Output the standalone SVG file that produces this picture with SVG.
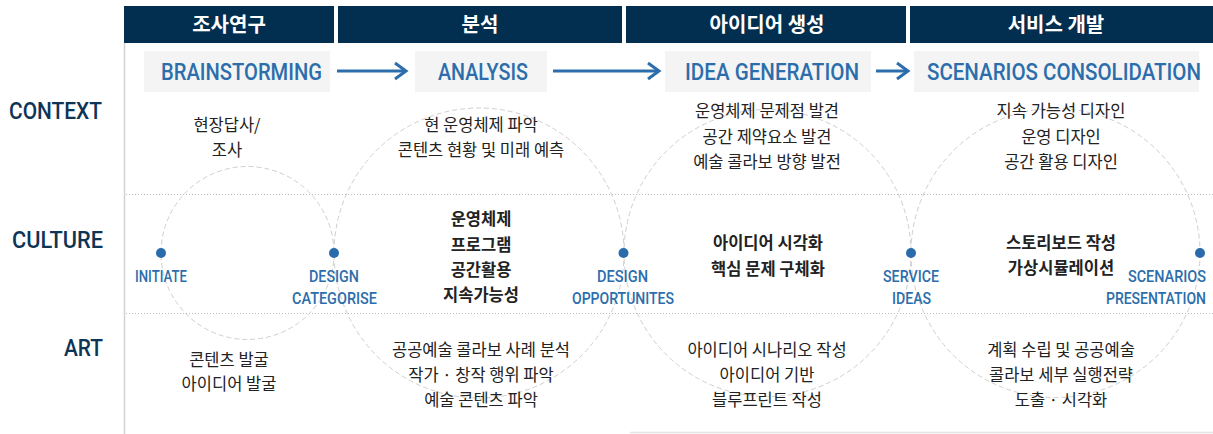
<svg xmlns="http://www.w3.org/2000/svg" width="1213" height="434" viewBox="0 0 1213 434">
<style>
.hdr{fill:#022e50}
.hdrt{font-family:"Noto Sans CJK KR","Noto Sans",sans-serif;font-weight:700;font-size:20px;fill:#ffffff;text-anchor:middle}
.box{fill:#f4f4f4}
.boxt{font-family:Roboto,"Liberation Sans",Arial,sans-serif;font-weight:500;font-size:24px;fill:#2c6eab}
.row{font-family:Roboto,"Liberation Sans",Arial,sans-serif;font-weight:500;font-size:24.5px;fill:#0e3456}
.lbl{font-family:Roboto,"Liberation Sans",Arial,sans-serif;font-weight:500;font-size:17px;fill:#2c6eab}
.body{font-family:"Noto Sans CJK KR","Noto Sans",sans-serif;font-size:16.5px;fill:#222222;text-anchor:middle}
.bold{font-weight:700}
.circ{fill:none;stroke:#cfcfcf;stroke-width:1;stroke-dasharray:5 3}
.dot{fill:#2a6cab}
.sep{stroke:#bdbdbd;stroke-width:1;stroke-dasharray:1 2}
.arr{stroke:#2c6eab;stroke-width:3;fill:none}
</style>
<defs>
<marker id="chev" markerUnits="userSpaceOnUse" markerWidth="16" markerHeight="20" refX="13" refY="10" orient="auto">
<polyline points="2,2 13,10 2,18" fill="none" stroke="#2c6eab" stroke-width="3"/>
</marker>
</defs>
<rect width="1213" height="434" fill="#ffffff"/>
<line x1="124.5" y1="43" x2="124.5" y2="434" stroke="#d2d2d2" stroke-width="1.5"/>
<line x1="630" y1="432.5" x2="1213" y2="432.5" stroke="#e4e4e4" stroke-width="1.5"/>
<g id="separators">
<line class="sep" x1="126" y1="194.5" x2="1213" y2="194.5"/>
<line class="sep" x1="126" y1="313.5" x2="1213" y2="313.5"/>
</g>
<g id="circles">
<circle class="circ" cx="247.5" cy="253" r="86.5"/>
<circle class="circ" cx="479" cy="253" r="145"/>
<circle class="circ" cx="767.5" cy="253" r="143.5"/>
<circle class="circ" cx="1055.5" cy="253" r="144.5"/>
</g>
<g id="row-labels">
<text class="row" x="9" y="119" textLength="93" lengthAdjust="spacingAndGlyphs">CONTEXT</text>
<text class="row" x="12" y="248" textLength="91" lengthAdjust="spacingAndGlyphs">CULTURE</text>
<text class="row" x="64" y="356" textLength="39" lengthAdjust="spacingAndGlyphs">ART</text>
</g>
<g id="header-1"><rect class="hdr" x="124" y="6" width="210" height="37"/><text class="hdrt" x="229" y="32">조사연구</text></g>
<g id="header-2"><rect class="hdr" x="338" y="6" width="284" height="37"/><text class="hdrt" x="480" y="32">분석</text></g>
<g id="header-3"><rect class="hdr" x="626" y="6" width="280" height="37"/><text class="hdrt" x="767" y="32">아이디어 생성</text></g>
<g id="header-4"><rect class="hdr" x="910" y="6" width="303" height="37"/><text class="hdrt" x="1056" y="32">서비스 개발</text></g>
<g id="stage-brainstorming"><rect class="box" x="144" y="51" width="186" height="41"/><text class="boxt" x="161" y="80" textLength="161" lengthAdjust="spacingAndGlyphs">BRAINSTORMING</text></g>
<g id="stage-analysis"><rect class="box" x="415" y="51" width="132" height="41"/><text class="boxt" x="438" y="80" textLength="90" lengthAdjust="spacingAndGlyphs">ANALYSIS</text></g>
<g id="stage-idea"><rect class="box" x="665" y="51" width="206" height="41"/><text class="boxt" x="685" y="80" textLength="174" lengthAdjust="spacingAndGlyphs">IDEA GENERATION</text></g>
<g id="stage-scenarios"><rect class="box" x="914" y="51" width="285" height="41"/><text class="boxt" transform="scale(0.8,1)" x="1158.75" y="80" textLength="342.5" lengthAdjust="spacingAndGlyphs">SCENARIOS CONSOLIDATION</text></g>
<g id="connectors">
<line class="arr" x1="337" y1="71" x2="406" y2="71" marker-end="url(#chev)"/>
<line class="arr" x1="553" y1="71" x2="659" y2="71" marker-end="url(#chev)"/>
<line class="arr" x1="876" y1="71" x2="908" y2="71" marker-end="url(#chev)"/>
</g>
<g id="context-1"><text class="body" x="227" y="131">현장답사/</text><text class="body" x="227" y="156">조사</text></g>
<g id="context-2"><text class="body" x="481" y="131">현 운영체제 파악</text><text class="body" x="481" y="156">콘텐츠 현황 및 미래 예측</text></g>
<g id="context-3"><text class="body" x="767" y="117">운영체제 문제점 발견</text><text class="body" x="767" y="143">공간 제약요소 발견</text><text class="body" x="767" y="168">예술 콜라보 방향 발전</text></g>
<g id="context-4"><text class="body" x="1061" y="117">지속 가능성 디자인</text><text class="body" x="1061" y="143">운영 디자인</text><text class="body" x="1061" y="168">공간 활용 디자인</text></g>
<g id="culture-2"><text class="body bold" x="481" y="225">운영체제</text><text class="body bold" x="481" y="251">프로그램</text><text class="body bold" x="481" y="276">공간활용</text><text class="body bold" x="481" y="301">지속가능성</text></g>
<g id="culture-3"><text class="body bold" x="768" y="249">아이디어 시각화</text><text class="body bold" x="768" y="275">핵심 문제 구체화</text></g>
<g id="culture-4"><text class="body bold" x="1061" y="249">스토리보드 작성</text><text class="body bold" x="1061" y="274">가상시뮬레이션</text></g>
<g id="art-1"><text class="body" x="229" y="366">콘텐츠 발굴</text><text class="body" x="229" y="390">아이디어 발굴</text></g>
<g id="art-2"><text class="body" x="481" y="356">공공예술 콜라보 사례 분석</text><text class="body" x="481" y="381">작가 · 창작 행위 파악</text><text class="body" x="481" y="406">예술 콘텐츠 파악</text></g>
<g id="art-3"><text class="body" x="767" y="356">아이디어 시나리오 작성</text><text class="body" x="767" y="381">아이디어 기반</text><text class="body" x="767" y="406">블루프린트 작성</text></g>
<g id="art-4"><text class="body" x="1061" y="356">계획 수립 및 공공예술</text><text class="body" x="1061" y="381">콜라보 세부 실행전략</text><text class="body" x="1061" y="406">도출 · 시각화</text></g>
<g id="point-initiate"><circle class="dot" cx="161" cy="253" r="5"/><text class="lbl" x="135" y="282" textLength="52" lengthAdjust="spacingAndGlyphs">INITIATE</text></g>
<g id="point-design-categorise"><circle class="dot" cx="334" cy="253" r="5"/><text class="lbl" x="309" y="282" textLength="50" lengthAdjust="spacingAndGlyphs">DESIGN</text><text class="lbl" x="292" y="304" textLength="85" lengthAdjust="spacingAndGlyphs">CATEGORISE</text></g>
<g id="point-design-opportunites"><circle class="dot" cx="623.5" cy="253" r="5"/><text class="lbl" x="597" y="282" textLength="51" lengthAdjust="spacingAndGlyphs">DESIGN</text><text class="lbl" x="572" y="304" textLength="102" lengthAdjust="spacingAndGlyphs">OPPORTUNITES</text></g>
<g id="point-service-ideas"><circle class="dot" cx="911" cy="253" r="5"/><text class="lbl" x="883" y="282" textLength="56" lengthAdjust="spacingAndGlyphs">SERVICE</text><text class="lbl" x="892" y="304" textLength="39" lengthAdjust="spacingAndGlyphs">IDEAS</text></g>
<g id="point-scenarios-presentation"><circle class="dot" cx="1200" cy="253" r="5"/><text class="lbl" transform="scale(0.8,1)" x="1410" y="282" textLength="97.5" lengthAdjust="spacingAndGlyphs">SCENARIOS</text><text class="lbl" transform="scale(0.8,1)" x="1382.5" y="304" textLength="125" lengthAdjust="spacingAndGlyphs">PRESENTATION</text></g>
</svg>
